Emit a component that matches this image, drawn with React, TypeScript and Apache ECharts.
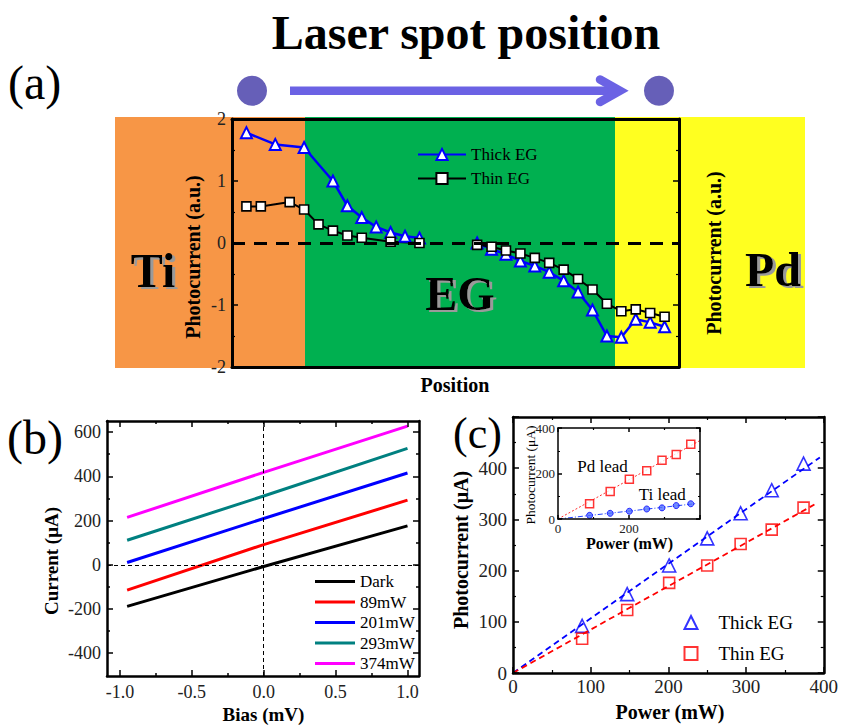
import React, { useEffect, useRef } from 'react';
import * as echarts from 'echarts';

const FONT = 'Liberation Serif';

// ---------- Panel (a): photocurrent vs laser position ----------
const posThickA = [1, 3, 5, 7, 8, 9, 10, 11, 12, 13, 17, 18, 19, 20, 21, 22, 23, 24, 25, 26, 27, 28, 29, 30];
const thickA = [1.78, 1.59, 1.54, 1.0, 0.6, 0.41, 0.26, 0.17, 0.11, 0.08, 0.0, -0.1, -0.18, -0.29, -0.37, -0.47, -0.61, -0.79, -1.08, -1.5, -1.52, -1.23, -1.28, -1.35];
const posThinA = [1, 2, 4, 5, 6, 7, 8, 9, 11, 13, 17, 18, 19, 20, 21, 22, 23, 24, 25, 26, 27, 28, 29, 30];
const thinA = [0.59, 0.59, 0.66, 0.54, 0.3, 0.2, 0.12, 0.085, 0.02, 0.0, -0.03, -0.06, -0.12, -0.17, -0.24, -0.32, -0.43, -0.58, -0.75, -0.98, -1.1, -1.07, -1.13, -1.19];
const legendA = ['Thick EG', 'Thin EG'];

// ---------- Panel (b): I-V curves ----------
const biasB = [-0.95, 0, 1.0];
const namesB = ['Dark', '89mW', '201mW', '293mW', '374mW'];
const darkB = [-188, -8, 176];
const p89B = [-115, 91, 292];
const p201B = [10, 209, 415];
const p293B = [111, 311, 526];
const p374B = [214, 418, 627];
const xMajorB = [-1, -0.5, 0, 0.5, 1];
const xMinorB = [-0.75, -0.25, 0.25, 0.75];
const yMajorB = [-400, -200, 0, 200, 400, 600];
const yMinorB = [-300, -100, 100, 300, 500];

// ---------- Panel (c): photocurrent vs power ----------
const powerC = [89, 147, 201, 250, 293, 333, 374];
const thickC = [92, 154, 210, 263, 312, 357, 409];
const thinC = [67, 123, 176, 210, 252, 280, 323];
const fitThickX = [0, 395];
const fitThickY = [0, 421];
const fitThinX = [0, 388];
const fitThinY = [0, 329];
const legendC = ['Thick EG', 'Thin EG'];

// inset
const pdLead = [67, 121, 175, 212, 258, 284, 329];
const tiLead = [16, 25, 34, 44, 49, 59, 67];
const fitPdX = [0, 400];
const fitPdY = [0, 345];
const fitTiX = [0, 391];
const fitTiY = [0, 68];

const zip = (xs: number[], ys: number[]) => xs.map((x, i) => [x, ys[i]]);
const withGaps = (xs: number[], ys: number[]) => {
  const out: any[] = [];
  xs.forEach((x, i) => {
    if (i > 0 && x - xs[i - 1] > 3) out.push([(x + xs[i - 1]) / 2, '-']);
    out.push([x, ys[i]]);
  });
  return out;
};

type AxOpt = {
  grid: number; pos: string; min: number; max: number; interval?: number;
  line?: boolean; lw?: number; ticks?: boolean; tickLen?: number; minor?: number; minorLen?: number;
  labels?: boolean; fs?: number; margin?: number; fmt?: (v: number) => string;
  tickValues?: number[]; labelValues?: number[];
};
function ax(o: AxOpt) {
  const tick: any = { show: o.ticks !== false, inside: true, length: o.tickLen ?? 6, lineStyle: { color: '#000', width: 1.5 } };
  if (o.tickValues) tick.customValues = o.tickValues;
  const label: any = {
    show: !!o.labels, margin: o.margin ?? 6, fontFamily: FONT, fontWeight: 'normal', fontSize: o.fs ?? 18,
    color: '#222', showMinLabel: true, showMaxLabel: true, hideOverlap: false,
  };
  if (o.fmt) label.formatter = o.fmt;
  if (o.labelValues) label.customValues = o.labelValues;
  const a: any = {
    type: 'value', gridIndex: o.grid, position: o.pos, min: o.min, max: o.max,
    axisLine: { show: o.line !== false, onZero: false, lineStyle: { color: '#000', width: o.lw ?? 2.5 } },
    axisTick: tick,
    minorTick: { show: !!o.minor, splitNumber: o.minor ?? 5, length: o.minorLen ?? 3, lineStyle: { color: '#000', width: 1.2 } },
    axisLabel: label,
    splitLine: { show: false },
    minorSplitLine: { show: false },
    z: 5,
  };
  if (o.interval !== undefined) a.interval = o.interval;
  return a;
}

const txt = (text: string, x: number, y: number, size: number, extra: any = {}) => ({
  type: 'text', x, y, rotation: extra.rotation ?? 0, z: extra.z ?? 10,
  style: {
    text, fill: extra.fill ?? '#000', fontFamily: FONT, fontSize: size, fontWeight: extra.bold ? 'bold' : 'normal',
    textAlign: extra.align ?? 'center', textVerticalAlign: 'middle',
    ...(extra.shadow
      ? { textShadowColor: '#9a9a9a', textShadowOffsetX: 3, textShadowOffsetY: 2, textShadowBlur: 0.5 }
      : {}),
  },
});

const ARROW = '#6b62e4';
const DOT = '#665fb8';
const BAR_ICON = 'path://M0,0L40,0L40,3L0,3Z';

export default function App() {
  const ref = useRef<HTMLDivElement>(null);
  useEffect(() => {
    if (!ref.current) return;
    const chart = echarts.init(ref.current, undefined, { renderer: 'svg' });
    const fmtHide = (h: number) => (v: number) => (v === h ? '' : String(v));

    const colorsB = ['#000000', '#ff0000', '#0000ff', '#008080', '#ff00ff'];
    const valsB = [darkB, p89B, p201B, p293B, p374B];

    const option: any = {
      animation: false,
      backgroundColor: '#fff',
      textStyle: { fontFamily: FONT },
      grid: [
        { left: 232, top: 119, width: 447, height: 248, containLabel: false },
        { left: 107, top: 421, width: 312, height: 255, containLabel: false },
        { left: 107, top: 421, width: 312, height: 255, containLabel: false },
        { left: 513, top: 417, width: 314, height: 256, containLabel: false },
        { left: 558, top: 428, width: 142, height: 91, containLabel: false, show: true, backgroundColor: '#fff', borderWidth: 0, z: 3 },
      ],
      xAxis: [
        ax({ grid: 0, pos: 'bottom', min: 0, max: 31, ticks: false, lw: 3 }),
        ax({ grid: 0, pos: 'top', min: 0, max: 31, ticks: false, lw: 3 }),
        ax({ grid: 1, pos: 'bottom', min: -1.09, max: 1.08, labels: true, fs: 18, margin: 7, tickValues: xMajorB, labelValues: xMajorB, fmt: (v: number) => v.toFixed(1) }),
        ax({ grid: 1, pos: 'top', min: -1.09, max: 1.08, tickValues: xMajorB }),
        ax({ grid: 2, pos: 'bottom', min: -1.09, max: 1.08, line: false, tickLen: 3, tickValues: xMinorB }),
        ax({ grid: 2, pos: 'top', min: -1.09, max: 1.08, line: false, tickLen: 3, tickValues: xMinorB }),
        ax({ grid: 3, pos: 'bottom', min: 0, max: 400, interval: 100, minor: 2, labels: true, fs: 19, margin: 4 }),
        ax({ grid: 3, pos: 'top', min: 0, max: 400, interval: 100, minor: 2 }),
        ax({ grid: 4, pos: 'bottom', min: 0, max: 400, interval: 200, minor: 2, labels: true, fs: 13, margin: 3, lw: 1.5, tickLen: 4, minorLen: 2, fmt: fmtHide(400) }),
        ax({ grid: 4, pos: 'top', min: 0, max: 400, interval: 200, minor: 2, lw: 1.5, tickLen: 4, minorLen: 2 }),
      ],
      yAxis: [
        ax({ grid: 0, pos: 'left', min: -2, max: 2, interval: 1, minor: 2, labels: true, fs: 18, margin: 6, lw: 3 }),
        ax({ grid: 0, pos: 'right', min: -2, max: 2, interval: 1, minor: 2, lw: 3 }),
        ax({ grid: 1, pos: 'left', min: -503, max: 650, labels: true, fs: 18, margin: 6, tickValues: yMajorB, labelValues: yMajorB }),
        ax({ grid: 1, pos: 'right', min: -503, max: 650, tickValues: yMajorB }),
        ax({ grid: 2, pos: 'left', min: -503, max: 650, line: false, tickLen: 3, tickValues: yMinorB }),
        ax({ grid: 2, pos: 'right', min: -503, max: 650, line: false, tickLen: 3, tickValues: yMinorB }),
        ax({ grid: 3, pos: 'left', min: 0, max: 500, interval: 100, minor: 2, labels: true, fs: 19, margin: 6, fmt: fmtHide(500) }),
        ax({ grid: 3, pos: 'right', min: 0, max: 500, interval: 100, minor: 2 }),
        ax({ grid: 4, pos: 'left', min: 0, max: 400, interval: 200, minor: 2, labels: true, fs: 13, margin: 3, lw: 1.5, tickLen: 4, minorLen: 2 }),
        ax({ grid: 4, pos: 'right', min: 0, max: 400, interval: 200, minor: 2, lw: 1.5, tickLen: 4, minorLen: 2 }),
      ],
      legend: [
        {
          left: 417, top: 146, orient: 'vertical', itemWidth: 48, itemHeight: 14, itemGap: 7, padding: 0,
          data: legendA, selectedMode: false, textStyle: { fontFamily: FONT, fontSize: 17, color: '#000' },
        },
        {
          left: 315, top: 573, orient: 'vertical', itemWidth: 40, itemHeight: 14, itemGap: 3.5, padding: 0,
          icon: BAR_ICON,
          data: namesB, selectedMode: false, textStyle: { fontFamily: FONT, fontSize: 17, color: '#000' },
        },
        {
          left: 683.5, top: 613, orient: 'vertical', itemWidth: 13, itemHeight: 13, itemGap: 12, padding: 0,
          data: legendC.map((n) => n + ' (c)'), selectedMode: false,
          formatter: (n: string) => n.replace(' (c)', ''),
          textStyle: { fontFamily: FONT, fontSize: 19, color: '#000', padding: [0, 0, 0, 16] },
        },
      ],
      series: [
        // (a)
        {
          type: 'line', name: legendA[0], xAxisIndex: 0, yAxisIndex: 0, data: withGaps(posThickA, thickA),
          symbol: 'triangle', symbolSize: 11, connectNulls: false,
          lineStyle: { color: '#0000ff', width: 2.5 }, itemStyle: { color: '#ffffff', borderColor: '#0000ff', borderWidth: 2 },
        },
        {
          type: 'line', name: legendA[1], xAxisIndex: 0, yAxisIndex: 0, data: withGaps(posThinA, thinA),
          symbol: 'rect', symbolSize: 9, connectNulls: false,
          lineStyle: { color: '#000000', width: 2 }, itemStyle: { color: '#ffffff', borderColor: '#000000', borderWidth: 1.6 },
          markLine: {
            silent: true, symbol: 'none', label: { show: false },
            lineStyle: { color: '#000', width: 3, type: [13, 9] }, data: [{ yAxis: 0 }],
          },
        },
        // (b)
        ...namesB.map((n, i) => ({
          type: 'line', name: n, xAxisIndex: 2, yAxisIndex: 2, data: zip(biasB, valsB[i]), symbol: 'none',
          lineStyle: { color: colorsB[i], width: 3 }, itemStyle: { color: colorsB[i] },
          ...(i === 0
            ? {
                markLine: {
                  silent: true, symbol: 'none', label: { show: false },
                  lineStyle: { color: '#000', width: 1, type: [4, 3] }, data: [{ xAxis: 0 }, { yAxis: 0 }],
                },
              }
            : {}),
        })),
        // (c) fits
        {
          type: 'line', xAxisIndex: 6, yAxisIndex: 6, data: zip(fitThickX, fitThickY), symbol: 'none',
          lineStyle: { color: '#0000ff', width: 1.8, type: [6, 4] },
        },
        {
          type: 'line', xAxisIndex: 6, yAxisIndex: 6, data: zip(fitThinX, fitThinY), symbol: 'none',
          lineStyle: { color: '#ff0000', width: 1.8, type: [6, 4] },
        },
        {
          type: 'scatter', name: legendC[0] + ' (c)', xAxisIndex: 6, yAxisIndex: 6, data: zip(powerC, thickC),
          symbol: 'triangle', symbolSize: 13, itemStyle: { color: '#ffffff', borderColor: '#0000ff', borderWidth: 1.6 },
        },
        {
          type: 'scatter', name: legendC[1] + ' (c)', xAxisIndex: 6, yAxisIndex: 6, data: zip(powerC, thinC),
          symbol: 'rect', symbolSize: 11, itemStyle: { color: '#ffffff', borderColor: '#ff0000', borderWidth: 1.6 },
        },
        // inset
        {
          type: 'line', xAxisIndex: 8, yAxisIndex: 8, data: zip(fitPdX, fitPdY), symbol: 'none', z: 4,
          lineStyle: { color: '#ff3030', width: 1, type: [2, 2] },
        },
        {
          type: 'line', xAxisIndex: 8, yAxisIndex: 8, data: zip(fitTiX, fitTiY), symbol: 'none', z: 4,
          lineStyle: { color: '#2040ff', width: 1, type: [5, 2, 1, 2] },
        },
        {
          type: 'scatter', xAxisIndex: 8, yAxisIndex: 8, data: zip(powerC, pdLead), z: 4,
          symbol: 'rect', symbolSize: 8, itemStyle: { color: '#ffffff', borderColor: '#ff0000', borderWidth: 1.5 },
        },
        {
          type: 'scatter', xAxisIndex: 8, yAxisIndex: 8, data: zip(powerC, tiLead), z: 4,
          symbol: 'circle', symbolSize: 6, itemStyle: { color: '#5070ff', borderColor: '#0000ff', borderWidth: 1 },
        },
      ],
      graphic: {
        elements: [
          // coloured regions of panel (a)
          { type: 'rect', z: -1, shape: { x: 115, y: 117, width: 190, height: 251 }, style: { fill: '#f79646' } },
          { type: 'rect', z: -1, shape: { x: 305, y: 117, width: 310, height: 251 }, style: { fill: '#00b050' } },
          { type: 'rect', z: -1, shape: { x: 615, y: 117, width: 190, height: 251 }, style: { fill: '#ffff20' } },
          txt('Ti', 153, 270, 48, { bold: true, shadow: true, z: 2 }),
          txt('EG', 460, 293, 48, { bold: true, shadow: true, z: 2 }),
          txt('Pd', 773, 269, 48, { bold: true, shadow: true, z: 2 }),
          // title + arrow
          txt('Laser spot position', 466, 32, 48, { bold: true }),
          { type: 'circle', shape: { cx: 252, cy: 90.7, r: 15 }, style: { fill: DOT } },
          { type: 'circle', shape: { cx: 659, cy: 90.7, r: 15 }, style: { fill: DOT } },
          { type: 'rect', shape: { x: 290, y: 86.5, width: 327, height: 8.5 }, style: { fill: ARROW } },
          {
            type: 'polyline', shape: { points: [[600, 79.5], [620, 90.7], [600, 102]] },
            style: { stroke: ARROW, lineWidth: 8.5, fill: 'none', lineCap: 'round', lineJoin: 'miter' },
          },
          // panel letters
          txt('(a)', 8, 82, 48, { align: 'left' }),
          txt('(b)', 7, 437, 48, { align: 'left' }),
          txt('(c)', 453, 433, 44, { align: 'left' }),
          // axis titles
          txt('Photocurrent (a.u.)', 192.5, 257, 20, { bold: true, rotation: Math.PI / 2 }),
          txt('Photocurrent (a.u.)', 714, 253, 20, { bold: true, rotation: Math.PI / 2 }),
          txt('Position', 455, 385, 20, { bold: true }),
          txt('Current (μA)', 51.5, 561, 19, { bold: true, rotation: Math.PI / 2 }),
          txt('Bias (mV)', 263.5, 714, 19, { bold: true }),
          txt('Photocurrent (μA)', 460.5, 550, 20, { bold: true, rotation: Math.PI / 2 }),
          txt('Power (mW)', 670, 712, 20, { bold: true }),
          txt('Photocurrent (μA)', 530, 475, 13.5, { rotation: Math.PI / 2 }),
          txt('Power (mW)', 629.5, 543.5, 16, { bold: true }),
          txt('Pd lead', 602.5, 466.5, 17),
          txt('Ti lead', 662.3, 494, 17),
        ],
      },
    };
    chart.setOption(option);
    return () => chart.dispose();
  }, []);
  return <div ref={ref} style={{ position: 'absolute', left: 0, top: 0, width: 841, height: 725 }} />;
}
